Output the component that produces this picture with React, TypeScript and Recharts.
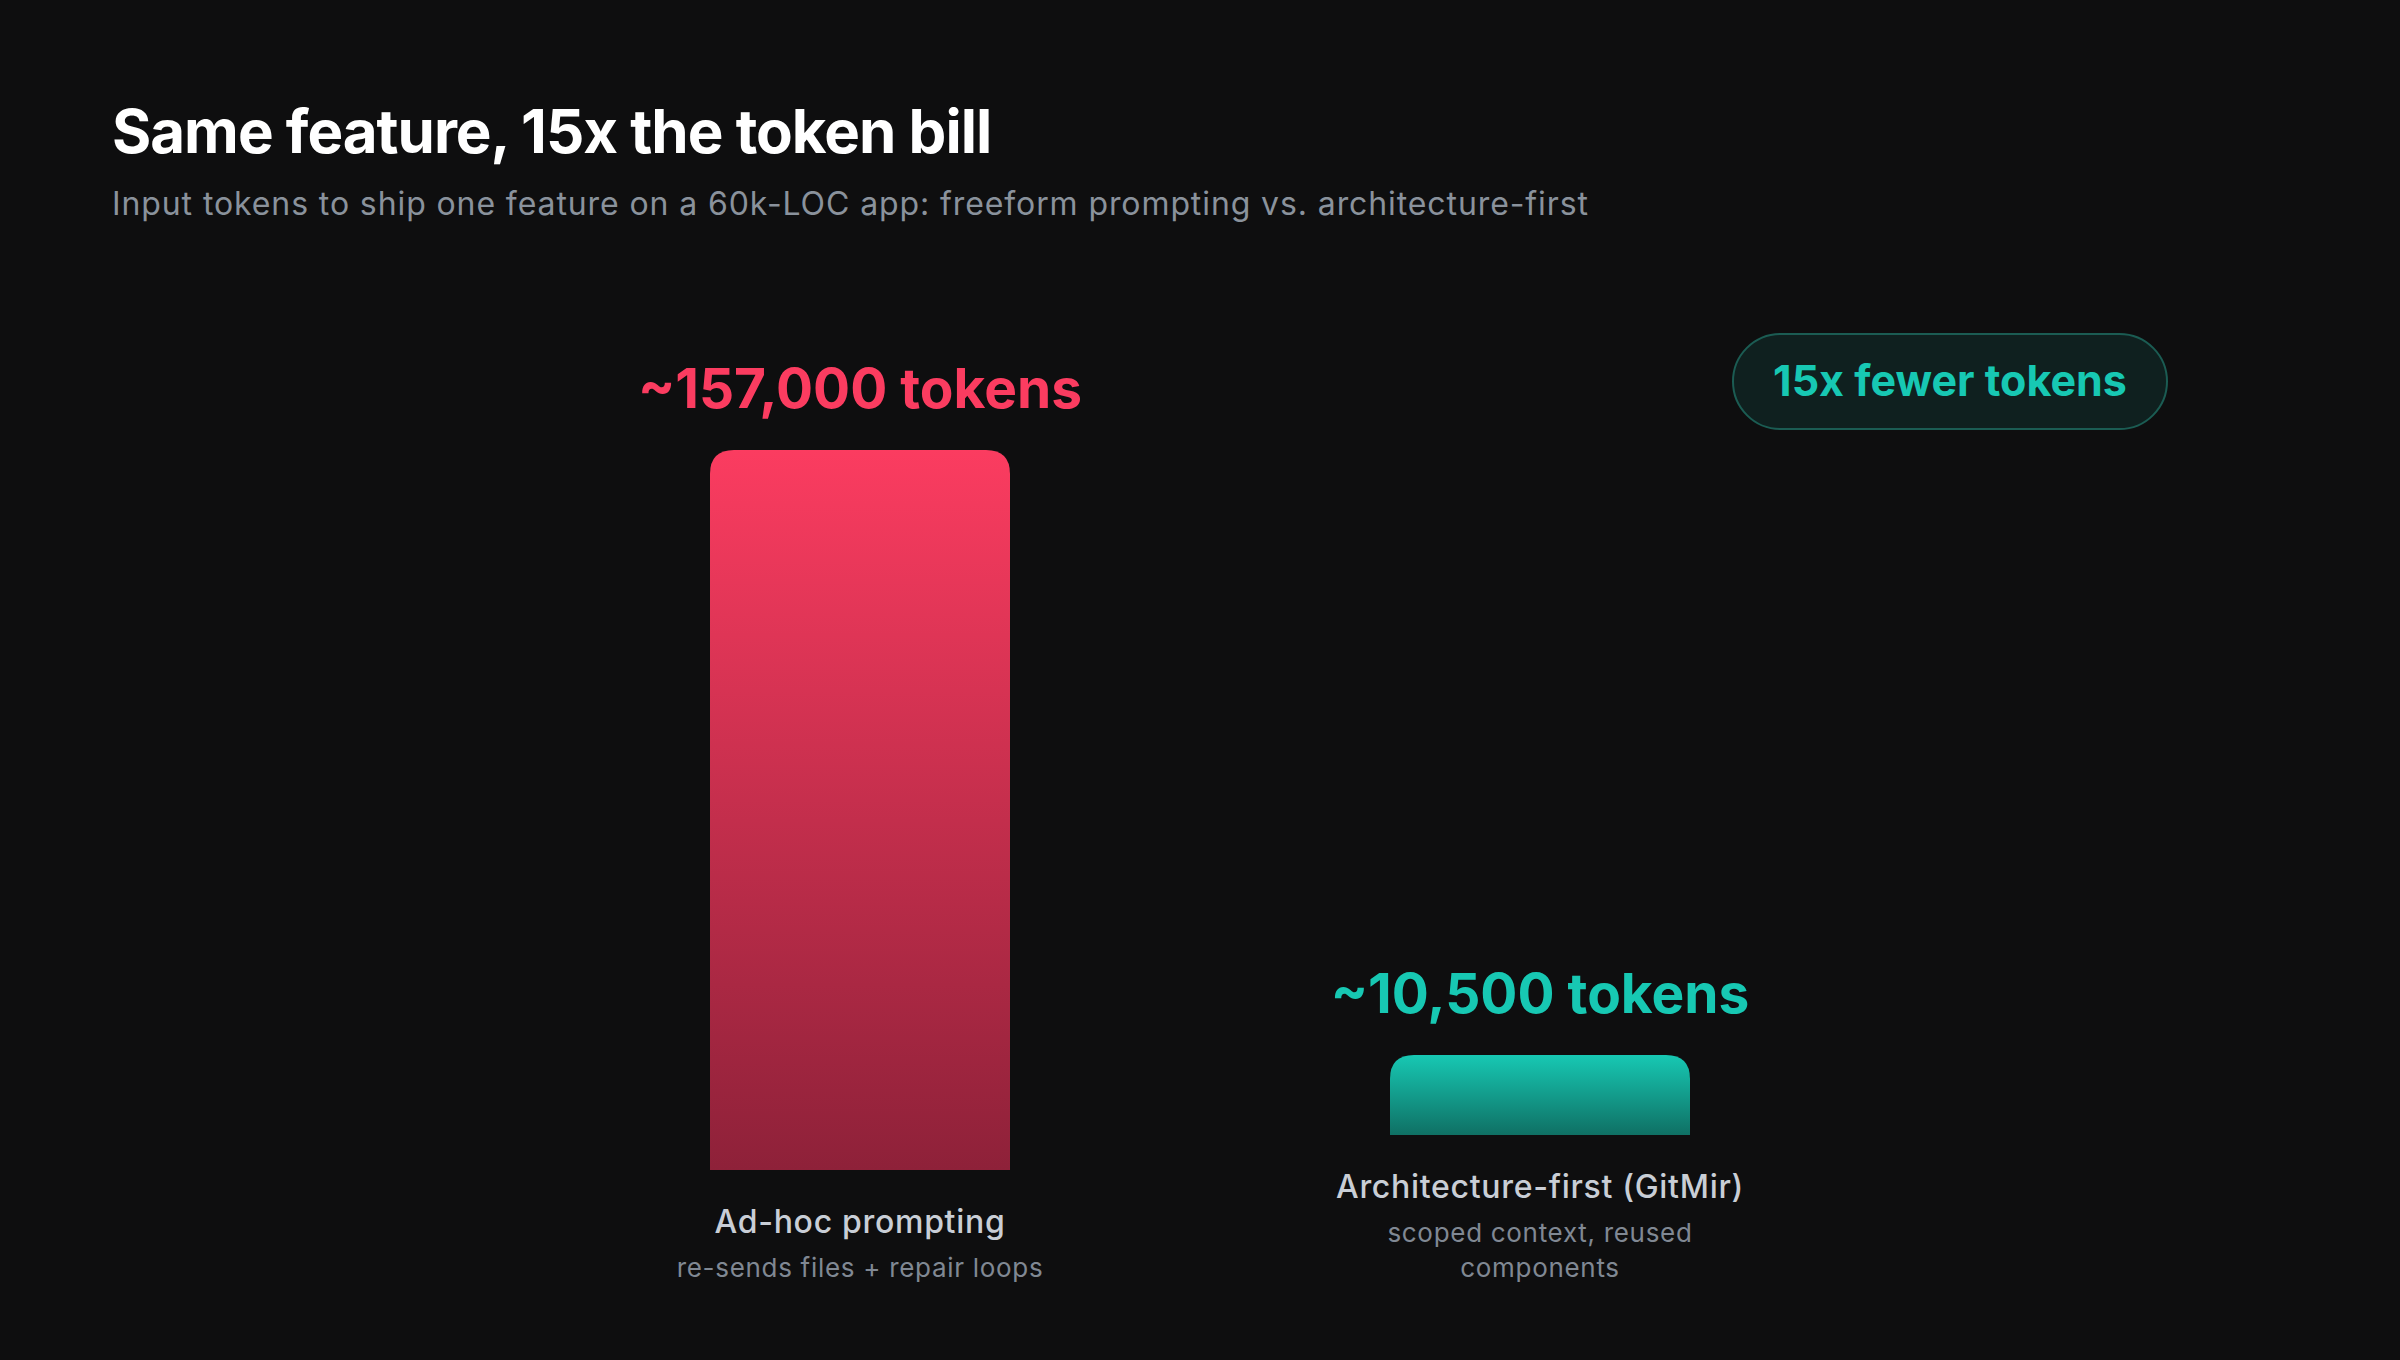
import { BarChart, Bar, XAxis, YAxis, Cell, LabelList } from 'recharts';

const categories = ['Ad-hoc prompting', 'Architecture-first (GitMir)'];
const tokens = [157000, 10500];
const valueLabels = ['~157,000 tokens', '~10,500 tokens'];
const notes = [['re-sends files + repair loops'], ['scoped context, reused', 'components']];
const badgeText = '15x fewer tokens';

const TITLE = 'Same feature, 15x the token bill';
const SUBTITLE = 'Input tokens to ship one feature on a 60k-LOC app: freeform prompting vs. architecture-first';

const TOP = ['#fb3c60', '#17c8b3'];
const BOTTOM = ['#8e2139', '#0f7064'];
const TEXT = ['#fb3c60', '#17c8b3'];
const FONT = 'Inter, "Noto Sans", sans-serif';
const NOTE_LH = 35;

const data = categories.map((name, i) => ({ name, tokens: tokens[i] }));

// columns are bottom aligned, so a wrapped note lifts the bar
const lift = (i: number) => (notes[i].length - 1) * NOTE_LH;

const BarShape = (props: any) => {
  const { x, y, width, height, index } = props;
  const r = 24;
  const top = y - lift(index);
  const bottom = y + height - lift(index);
  const d = `M${x},${bottom} L${x},${top + r} Q${x},${top} ${x + r},${top} L${x + width - r},${top} Q${x + width},${top} ${x + width},${top + r} L${x + width},${bottom} Z`;
  return <path d={d} fill={`url(#grad${index})`} />;
};

const ValueLabel = (props: any) => {
  const { x, y, width, index } = props;
  return (
    <text x={x + width / 2} y={y - 42 - lift(index)} textAnchor="middle" fill={TEXT[index]}
      fontFamily={FONT} fontWeight={700} fontSize={55}>
      {valueLabels[index]}
    </text>
  );
};

const Tick = (props: any) => {
  const { x, y, index } = props;
  const lines = notes[index];
  const last = y + 107;
  const nameY = last - 44 - (lines.length - 1) * NOTE_LH;
  return (
    <g>
      <text x={x} y={nameY} textAnchor="middle" fill="#c9ced6" fontFamily={FONT} fontWeight={500} fontSize={32}
        letterSpacing={0.7}>
        {categories[index]}
      </text>
      {lines.map((l, k) => (
        <text key={k} x={x} y={nameY + 44 + k * NOTE_LH} textAnchor="middle" fill="#808893"
          fontFamily={FONT} fontSize={26} letterSpacing={0.7}>
          {l}
        </text>
      ))}
    </g>
  );
};

export default function App() {
  return (
    <div style={{ position: 'absolute', left: 0, top: 0, width: 2400, height: 1360, background: '#0e0e0f' }}>
      <BarChart width={2400} height={1360} data={data} margin={{ top: 450, right: 520, left: 520, bottom: 0 }}>
        <defs>
          {categories.map((_, i) => (
            <linearGradient key={i} id={`grad${i}`} x1="0" y1="0" x2="0" y2="1">
              <stop offset="0%" stopColor={TOP[i]} />
              <stop offset="100%" stopColor={BOTTOM[i]} />
            </linearGradient>
          ))}
        </defs>
        <XAxis dataKey="name" height={190} axisLine={false} tickLine={false} tickSize={0} tickMargin={0}
          interval={0} tick={<Tick />} />
        <YAxis hide domain={[0, 157000]} />
        <Bar dataKey="tokens" barSize={300} minPointSize={80} shape={<BarShape />} isAnimationActive={false}>
          {data.map((_, i) => (
            <Cell key={i} fill={`url(#grad${i})`} />
          ))}
          <LabelList dataKey="tokens" content={<ValueLabel />} />
        </Bar>
      </BarChart>
      <svg width={2400} height={1360} style={{ position: 'absolute', left: 0, top: 0, pointerEvents: 'none' }}>
        <text x={112} y={153} fill="#ffffff" fontFamily={FONT} fontWeight={700} fontSize={60} letterSpacing={-1}>
          {TITLE}
        </text>
        <text x={112} y={215} fill="#8a929c" fontFamily={FONT} fontSize={32} letterSpacing={0.9}>{SUBTITLE}</text>
        <rect x={1733} y={334} width={434} height={95} rx={47.5} fill="#0f201f" stroke="#1b5c53" strokeWidth={2} />
        <text x={1950} y={396} textAnchor="middle" fill="#17c8b3" fontFamily={FONT} fontWeight={700} fontSize={43}>
          {badgeText}
        </text>
      </svg>
    </div>
  );
}
